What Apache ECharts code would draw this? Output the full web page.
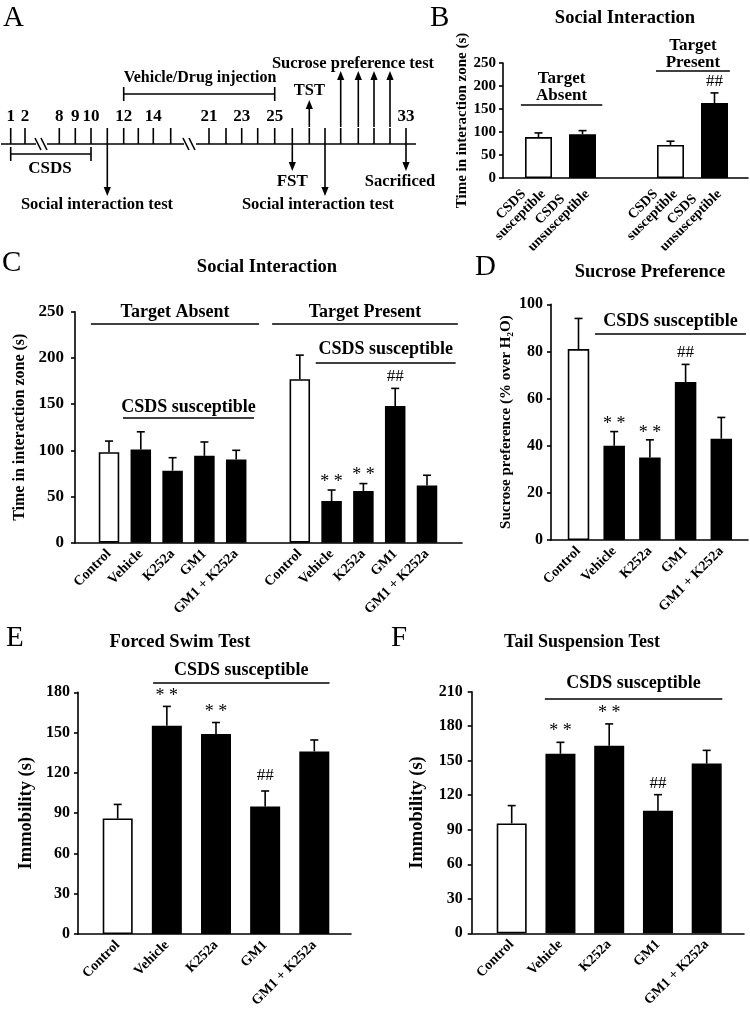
<!DOCTYPE html>
<html><head><meta charset="utf-8">
<script src="https://cdn.jsdelivr.net/npm/echarts@6/dist/echarts.min.js"></script>
<style>html,body{margin:0;padding:0;background:#fff}#c{width:750px;height:1011px}</style>
</head><body><div id="c"></div>
<script>
const FONT = "'Liberation Serif','Times New Roman',serif";

// ---------- DATA ----------
// Panel A timeline
const aDays = [1,2,8,9,10,11,12,13,14,15,21,22,23,24,25,26,27,28,29,30,31,32,33];
const aLabeledDays = [1,2,8,9,10,12,14,21,23,25,33];

// Panel B
const bCats = ['CSDS    \nsusceptible','CSDS      \nunsusceptible','','CSDS    \nsusceptible','CSDS      \nunsusceptible'];
const bValues = [89, 95, null, 72, 163];
const bErrors = [9, 8, null, 8, 22];
const bMarks = ['', '', '', '', '##'];
const bWhite = [true, false, false, true, false];

// Panel C
const cCats = ['Control','Vehicle','K252a','GM1','GM1 + K252a','','Control','Vehicle','K252a','GM1','GM1 + K252a'];
const cValues = [98, 101, 78, 94, 90, null, 177, 45, 56, 148, 62];
const cErrors = [12, 19, 14, 15, 10, null, 26, 12, 8, 19, 11];
const cMarks = ['', '', '', '', '', '', '', '**', '**', '##', ''];
const cWhite = [true, false, false, false, false, false, true, false, false, false, false];

// Panel D
const dCats = ['Control','Vehicle','K252a','GM1','GM1 + K252a'];
const dValues = [81, 40, 35, 67, 43];
const dErrors = [13, 6, 7.5, 7.5, 9];
const dMarks = ['', '**', '**', '##', ''];

// Panel E
const eCats = ['Control','Vehicle','K252a','GM1','GM1 + K252a'];
const eValues = [86, 155, 149, 95, 136];
const eErrors = [10.5, 14.5, 8.5, 11.5, 8.5];
const eMarks = ['', '**', '**', '##', ''];

// Panel F
const fCats = ['Control','Vehicle','K252a','GM1','GM1 + K252a'];
const fValues = [95.5, 156, 163, 106.5, 147.5];
const fErrors = [15.5, 10, 19, 14, 11.5];
const fMarks = ['', '**', '**', '##', ''];
const ctrlWhite = [true, false, false, false, false];

// ---------- BUILD ----------
const option = {animation:false, backgroundColor:'#fff', grid:[], xAxis:[], yAxis:[], series:[], graphic:[]};

function txtEl(t, x, y, size, weight, align, valign, rot){
  return {type:'text', x:x, y:y, rotation: rot||0, z:50,
    style:{text:t, font:(weight||'bold')+' '+size+'px '+FONT, fill:'#000',
      align:align||'center', verticalAlign:valign||'middle', textAlign:align||'center', textVerticalAlign:valign||'middle'}};
}

function addPanel(p){
  const g = option.grid.length, xi = option.xAxis.length, yi = option.yAxis.length;
  const h = p.y0 - p.yTop;
  option.grid.push({left:p.axisX, top:p.yTop, width:p.axisEnd-p.axisX, height:h});
  option.grid.push({left:p.firstCenter - p.slot/2, top:p.yTop, width:p.slot*p.cats.length, height:h});
  option.xAxis.push({gridIndex:g, type:'value', min:0, max:1,
    axisLine:{show:true, onZero:false, lineStyle:{color:'#000', width:1.6}},
    axisTick:{show:false}, axisLabel:{show:false}, splitLine:{show:false}});
  option.xAxis.push({gridIndex:g+1, type:'category', data:p.cats,
    axisLine:{show:false}, axisTick:{show:false},
    axisLabel:{interval:0, rotate:45, margin:p.xMargin, fontFamily:FONT, fontWeight:'bold', fontSize:p.xFont, color:'#000', lineHeight:p.xFont}});
  const yl = {gridIndex:g, type:'value', min:0, max:p.max, interval:p.interval,
    axisLine:{show:true, lineStyle:{color:'#000', width:1.6}},
    axisTick:{show:true, inside:false, length:4, lineStyle:{color:'#000', width:1.6}},
    axisLabel:{margin:p.yMargin, fontFamily:FONT, fontWeight:'bold', fontSize:p.yFont, color:'#000'},
    splitLine:{show:false},
    name:p.yName, nameLocation:'middle', nameGap:p.nameGap,
    nameTextStyle:{fontFamily:FONT, fontWeight:'bold', fontSize:p.nameFont, color:'#000'}};
  option.yAxis.push(yl);
  option.yAxis.push({gridIndex:g+1, type:'value', min:0, max:p.max, show:false});

  option.series.push({type:'bar', xAxisIndex:xi+1, yAxisIndex:yi+1, barWidth:p.barW, silent:true,
    data:p.values.map((v,i)=> v==null ? '-' : {value:v, itemStyle:{color:p.white[i]?'#fff':'#000', borderColor:'#000', borderWidth:1.6}})});

  const ebData = [];
  p.values.forEach((v,i)=>{ if(v!=null) ebData.push([i, v, p.errors[i]]); });
  option.series.push({type:'custom', xAxisIndex:xi+1, yAxisIndex:yi+1, clip:false, silent:true, z:5,
    data:ebData,
    renderItem:function(params, api){
      const i = api.value(0), v = api.value(1), e = api.value(2);
      const p0 = api.coord([i, v]), p1 = api.coord([i, v+e]);
      const cap = 4;
      const ch = [
        {type:'line', shape:{x1:p0[0], y1:p0[1], x2:p1[0], y2:p1[1]}, style:{stroke:'#000', lineWidth:1.6}},
        {type:'line', shape:{x1:p1[0]-cap, y1:p1[1], x2:p1[0]+cap, y2:p1[1]}, style:{stroke:'#000', lineWidth:1.6}}
      ];
      const m = p.marks[i];
      if(m){
        const star = m === '**';
        ch.push({type:'text', x:p1[0], y:p1[1] - (star ? p.starOff : p.hashOff),
          style:{text: star ? '* *' : '##', font:'normal '+(star?18:17)+'px '+FONT, fill:'#000',
            align:'center', verticalAlign:'middle', textAlign:'center', textVerticalAlign:'middle'}});
      }
      return {type:'group', children:ch};
    }});

  if(p.brackets && p.brackets.length){
    option.series.push({type:'custom', xAxisIndex:xi+1, yAxisIndex:yi+1, clip:false, silent:true, z:5,
      data:p.brackets.map((b)=>[0, b.at]),
      renderItem:function(params, api){
        const b = p.brackets[params.dataIndex];
        const c0 = api.coord([0, b.at]);
        const bw = api.size([1, 0])[0];
        const x1 = c0[0] + b.from*bw, x2 = c0[0] + b.to*bw;
        return {type:'group', children:[
          {type:'line', shape:{x1:x1, y1:c0[1], x2:x2, y2:c0[1]}, style:{stroke:'#000', lineWidth:1.6}},
          {type:'text', x:(x1+x2)/2, y:c0[1]-b.dy,
            style:{text:b.text, font:'bold '+b.size+'px '+FONT, fill:'#000', lineHeight:b.size,
              align:'center', verticalAlign:'middle', textAlign:'center', textVerticalAlign:'middle'}}
        ]};
      }});
  }
}

// Panel B
addPanel({cats:bCats, values:bValues, errors:bErrors, marks:bMarks, white:bWhite,
  axisX:503, axisEnd:748, yTop:63, y0:178, firstCenter:538.5, slot:44, barW:27,
  max:250, interval:50, yFont:15, yMargin:7, xFont:14, xMargin:9,
  yName:'Time in interaction zone (s)', nameGap:32, nameFont:15, starOff:9, hashOff:11,
  brackets:[
    {text:'Target\nAbsent', from:-0.4, to:1.45, at:158.7, dy:17.5, size:17},
    {text:'Target\nPresent', from:2.67, to:4.35, at:232.6, dy:16.5, size:17}
  ]});

// Panel C
addPanel({cats:cCats, values:cValues, errors:cErrors, marks:cMarks, white:cWhite,
  axisX:75, axisEnd:462, yTop:311.7, y0:542.7, firstCenter:109, slot:31.8, barW:20.5,
  max:250, interval:50, yFont:17, yMargin:11, xFont:14, xMargin:9,
  yName:'Time in interaction zone (s)', nameGap:42, nameFont:16, starOff:8, hashOff:12,
  brackets:[
    {text:'Target Absent', from:-0.57, to:4.72, at:236.7, dy:12, size:18},
    {text:'Target Present', from:5.13, to:10.97, at:236.7, dy:12, size:18},
    {text:'CSDS susceptible', from:0.44, to:4.56, at:135, dy:11, size:18},
    {text:'CSDS susceptible', from:6.5, to:10.9, at:194.5, dy:14, size:18}
  ]});

// Panel D
addPanel({cats:dCats, values:dValues, errors:dErrors, marks:dMarks, white:ctrlWhite,
  axisX:551, axisEnd:748, yTop:304.3, y0:540, firstCenter:578.5, slot:35.7, barW:21.5,
  max:100, interval:20, yFont:16, yMargin:8, xFont:14, xMargin:9,
  yName:'Sucrose preference (% over H\u2082O)', nameGap:37, nameFont:15, starOff:7, hashOff:12,
  brackets:[
    {text:'CSDS susceptible', from:0.46, to:4.69, at:87.4, dy:13, size:18}
  ]});

// Panel E
addPanel({cats:eCats, values:eValues, errors:eErrors, marks:eMarks, white:ctrlWhite,
  axisX:78, axisEnd:351, yTop:692.3, y0:934, firstCenter:117.7, slot:49.15, barW:30,
  max:180, interval:30, yFont:16, yMargin:8, xFont:14, xMargin:9,
  yName:'Immobility (s)', nameGap:42, nameFont:18.5, starOff:10, hashOff:15,
  brackets:[
    {text:'CSDS susceptible', from:0.72, to:4.31, at:186.9, dy:13, size:18}
  ]});

// Panel F
addPanel({cats:fCats, values:fValues, errors:fErrors, marks:fMarks, white:ctrlWhite,
  axisX:471.7, axisEnd:744, yTop:691.7, y0:933.3, firstCenter:511.7, slot:48.75, barW:30,
  max:210, interval:30, yFont:16, yMargin:9, xFont:14, xMargin:9,
  yName:'Immobility (s)', nameGap:45, nameFont:18.5, starOff:11, hashOff:11,
  brackets:[
    {text:'CSDS susceptible', from:0.68, to:4.32, at:203.7, dy:16, size:18}
  ]});

// ---------- Titles & panel letters ----------
const G = option.graphic;
G.push(txtEl('Social Interaction', 625, 18, 18.5));
G.push(txtEl('Social Interaction', 267, 267, 18.5));
G.push(txtEl('Sucrose Preference', 650, 272, 18.5));
G.push(txtEl('Forced Swim Test', 180, 642, 18.5));
G.push(txtEl('Tail Suspension Test', 582, 642, 18));
[['A',3,18],['B',430,18],['C',2,263],['D',475,267],['E',6,638],['F',391,638]].forEach(l=>{
  G.push(txtEl(l[0], l[1], l[2], 29, 'normal', 'left', 'middle'));
});

// ---------- Panel A timeline schematic ----------
const dayX = {1:10.7,2:25,8:59.3,9:75.3,10:91,11:107.3,12:123.7,13:138.3,14:153.3,15:170.7,
  21:209,22:226,23:241.7,24:257.7,25:274.7,26:292.3,27:309.3,28:325,29:340.7,30:358.3,31:374,32:390,33:406};
const LY = 144;
function ln(x1,y1,x2,y2){ return {type:'line', z:50, shape:{x1:x1,y1:y1,x2:x2,y2:y2}, style:{stroke:'#000', lineWidth:1.6}}; }
function arrow(x, yFrom, yTip){
  const dir = yTip < yFrom ? -1 : 1, hl = 9, hw = 3.6;
  G.push(ln(x, yFrom, x, yTip - dir*hl));
  G.push({type:'polygon', z:50, shape:{points:[[x, yTip],[x-hw, yTip - dir*hl],[x+hw, yTip - dir*hl]]}, style:{fill:'#000'}});
}
// axis line with breaks
G.push(ln(1, LY, 36, LY));
G.push(ln(47, LY, 184, LY));
G.push(ln(196, LY, 416, LY));
[[35,41],[41,47],[183,189],[189,195]].forEach(s=> G.push(ln(s[0], LY-6, s[1], LY+6)));
aDays.forEach(d=> G.push(ln(dayX[d], 128, dayX[d], LY)));
aLabeledDays.forEach(d=> G.push(txtEl(String(d), dayX[d], 117, 17)));
// injection bracket
G.push(ln(dayX[12], 94, dayX[25], 94));
G.push(ln(dayX[12], 87, dayX[12], 101));
G.push(ln(dayX[25], 87, dayX[25], 101));
G.push(txtEl('Vehicle/Drug injection', 200, 78, 16));
// TST
arrow(dayX[27], 127, 100);
G.push(txtEl('TST', dayX[27], 91, 16.5));
// sucrose
[29,30,31,32].forEach(d=> arrow(dayX[d], 127, 71));
G.push(txtEl('Sucrose preference test', 353, 64, 16.5));
// CSDS bracket
G.push(ln(dayX[1], 154, dayX[10], 154));
G.push(ln(dayX[1], 147, dayX[1], 161));
G.push(ln(dayX[10], 147, dayX[10], 161));
G.push(txtEl('CSDS', 50, 169, 17));
// downward arrows
arrow(dayX[11], LY, 196);
G.push(txtEl('Social interaction test', 97, 205, 16.5));
arrow(dayX[26], LY, 171);
G.push(txtEl('FST', dayX[26], 182, 17));
arrow(dayX[28], LY, 196);
G.push(txtEl('Social interaction test', 318, 205, 16.5));
arrow(dayX[33], LY, 171);
G.push(txtEl('Sacrificed', 400, 182, 16.5));

const chart = echarts.init(document.getElementById('c'), null, {renderer:'canvas'});
chart.setOption(option);
</script>
</body></html>
